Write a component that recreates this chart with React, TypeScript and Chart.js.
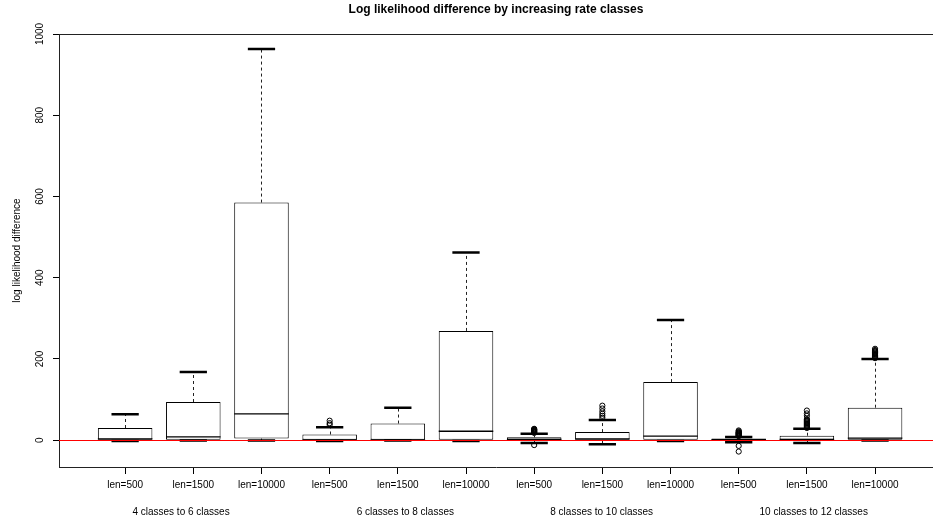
import React, { useEffect, useRef } from "react";
import { Chart, registerables } from "chart.js";

Chart.register(...registerables);

const FONT = "'Liberation Sans', Arial, Helvetica, sans-serif";

const TITLE = "Log likelihood difference by increasing rate classes";
const Y_TITLE = "log likelihood difference";

const CATEGORIES = [
  "len=500", "len=1500", "len=10000",
  "len=500", "len=1500", "len=10000",
  "len=500", "len=1500", "len=10000",
  "len=500", "len=1500", "len=10000",
];
const GROUPS = [
  "4 classes to 6 classes",
  "6 classes to 8 classes",
  "8 classes to 10 classes",
  "10 classes to 12 classes",
];
const GROUP_POS = [1.82, 5.11, 7.99, 11.1];

const WHISKER_LOW = [-2, -1, -1, -2, -1, -2, -7, -10, -2, -5, -7, -1];
const Q1 = [0, 0, 4, 0, 0, 0, 0, 0, 0, -1, 0, 0];
const MEDIAN = [3, 8, 65, 1, 1, 22, 2, 3, 10, 1, 2, 5];
const Q3 = [30, 94, 585, 14, 41, 269, 7, 20, 143, 4, 11, 80];
const WHISKER_HIGH = [64, 168, 963, 32, 80, 462, 16, 50, 296, 8, 28, 200];
const OUTLIERS: number[][] = [
  [],
  [],
  [],
  [38, 42, 48],
  [],
  [],
  [18, 19, 20, 21, 22, 23, 24, 25, 26, 27, 28, -12],
  [55, 60, 65, 71, 78, 85],
  [],
  [10, 11, 12, 13, 14, 15, 16, 17, 18, 19, 20, 22, 24, -14, -28],
  [30, 32, 34, 36, 38, 40, 42, 44, 46, 48, 50, 52, 60, 66, 73],
  [202, 204, 206, 208, 210, 212, 214, 216, 218, 220, 222, 225],
];

const Y_TICKS = [0, 200, 400, 600, 800, 1000];
const Y_MIN = -66;
const Y_MAX = 1000;
const X_MIN = 0.03;
const X_MAX = 12.85;
const REF_LINE = 0;

const boxPlugin = {
  id: "boxExtras",
  afterDatasetsDraw(chart: any) {
    const { ctx, chartArea } = chart;
    const x = chart.scales.x;
    const y = chart.scales.y;
    ctx.save();
    for (let i = 0; i < Q3.length; i++) {
      const pos = i + 1;
      const cx = Math.round(x.getPixelForValue(pos)) + 0.5;
      const capL = x.getPixelForValue(pos - 0.2);
      const capR = x.getPixelForValue(pos + 0.2);
      const boxL = x.getPixelForValue(pos - 0.4);
      const boxR = x.getPixelForValue(pos + 0.4);
      ctx.setLineDash([3, 3]);
      ctx.lineWidth = 1;
      ctx.strokeStyle = "#222";
      ctx.beginPath();
      ctx.moveTo(cx, y.getPixelForValue(Q3[i]));
      ctx.lineTo(cx, y.getPixelForValue(WHISKER_HIGH[i]));
      ctx.moveTo(cx, y.getPixelForValue(Q1[i]));
      ctx.lineTo(cx, y.getPixelForValue(WHISKER_LOW[i]));
      ctx.stroke();
      ctx.setLineDash([]);
      ctx.strokeStyle = "#000";
      ctx.lineWidth = 2.5;
      ctx.beginPath();
      ctx.moveTo(capL, y.getPixelForValue(WHISKER_HIGH[i]));
      ctx.lineTo(capR, y.getPixelForValue(WHISKER_HIGH[i]));
      ctx.moveTo(capL, y.getPixelForValue(WHISKER_LOW[i]));
      ctx.lineTo(capR, y.getPixelForValue(WHISKER_LOW[i]));
      ctx.stroke();
      ctx.lineWidth = 1.3;
      ctx.beginPath();
      const my = y.getPixelForValue(MEDIAN[i]);
      ctx.moveTo(boxL, my);
      ctx.lineTo(boxR, my);
      ctx.stroke();
    }
    const ry = Math.round(y.getPixelForValue(REF_LINE)) + 0.5;
    ctx.strokeStyle = "#ff0000";
    ctx.lineWidth = 1;
    ctx.beginPath();
    ctx.moveTo(chartArea.left, ry);
    ctx.lineTo(chartArea.right, ry);
    ctx.stroke();
    ctx.restore();
  },
  afterDraw(chart: any) {
    const { ctx, chartArea } = chart;
    const x = chart.scales.x;
    const y = chart.scales.y;
    ctx.save();
    ctx.strokeStyle = "#222";
    ctx.lineWidth = 1;
    ctx.beginPath();
    ctx.moveTo(chartArea.left, Math.round(chartArea.top) + 0.5);
    ctx.lineTo(chartArea.right, Math.round(chartArea.top) + 0.5);
    ctx.stroke();
    ctx.fillStyle = "#000";
    ctx.font = `10px ${FONT}`;
    ctx.textAlign = "center";
    ctx.textBaseline = "middle";
    for (const t of y.ticks) {
      const py = y.getPixelForValue(t.value);
      ctx.save();
      ctx.translate(40, py);
      ctx.rotate(-Math.PI / 2);
      ctx.fillText(String(t.value), 0, 0);
      ctx.restore();
    }
    for (let g = 0; g < GROUPS.length; g++) {
      ctx.fillText(GROUPS[g], x.getPixelForValue(GROUP_POS[g]), 512);
    }
    ctx.restore();
  },
};

export default function App() {
  const ref = useRef<HTMLCanvasElement | null>(null);
  useEffect(() => {
    if (!ref.current) return;
    const chart = new Chart(ref.current, {
      type: "bar",
      data: {
        datasets: [
          {
            type: "bar",
            data: Q1.map((q, i) => ({ x: i + 1, y: [q, Q3[i]] })) as any,
            backgroundColor: "#ffffff",
            borderColor: "#000000",
            borderWidth: 1,
            borderSkipped: false,
            barPercentage: 0.8,
            categoryPercentage: 1,
            grouped: false,
            order: 2,
          } as any,
          {
            type: "scatter",
            data: OUTLIERS.flatMap((arr, i) => arr.map((v) => ({ x: i + 1, y: v }))),
            pointRadius: 2.6,
            pointBorderWidth: 1,
            pointBackgroundColor: "rgba(255,255,255,0)",
            pointBorderColor: "#000",
            showLine: false,
            order: 1,
          } as any,
        ],
      },
      options: {
        responsive: false,
        animation: false,
        devicePixelRatio: 1,
        layout: { padding: 0, autoPadding: false },
        plugins: {
          legend: { display: false },
          tooltip: { enabled: false },
          title: {
            display: true,
            text: TITLE,
            fullSize: false,
            color: "#000",
            font: { family: FONT, size: 12, weight: "bold", lineHeight: 1.2 },
            padding: { top: 2, bottom: 17.6 },
          },
        },
        scales: {
          x: {
            type: "linear",
            min: X_MIN,
            max: X_MAX,
            offset: false,
            afterBuildTicks: (s: any) => {
              s.ticks = CATEGORIES.map((_, i) => ({ value: i + 1 }));
            },
            afterFit: (s: any) => {
              s.height = 55;
              s.paddingLeft = 0;
              s.paddingRight = 0;
            },
            ticks: {
              autoSkip: false,
              maxRotation: 0,
              minRotation: 0,
              padding: 5,
              color: "#000",
              font: { family: FONT, size: 10 },
              callback: (v: any) => CATEGORIES[Math.round(Number(v)) - 1] ?? "",
            },
            grid: {
              display: true,
              drawOnChartArea: false,
              drawTicks: true,
              tickLength: 7,
              color: "#000",
              offset: false,
            },
            border: { display: true, color: "#222", width: 1 },
          },
          y: {
            type: "linear",
            min: Y_MIN,
            max: Y_MAX,
            afterBuildTicks: (s: any) => {
              s.ticks = Y_TICKS.map((v) => ({ value: v }));
            },
            afterFit: (s: any) => {
              s.width = 59;
              s.paddingTop = 0;
              s.paddingBottom = 0;
            },
            ticks: { display: false },
            grid: {
              display: true,
              drawOnChartArea: false,
              drawTicks: true,
              tickLength: 6,
              color: "#000",
            },
            border: { display: true, color: "#222", width: 1 },
            title: {
              display: true,
              text: Y_TITLE,
              color: "#000",
              font: { family: FONT, size: 10 },
              padding: { top: 11, bottom: 0 },
            },
          },
        },
      } as any,
      plugins: [boxPlugin],
    });
    return () => chart.destroy();
  }, []);
  return (
    <div style={{ position: "fixed", left: 0, top: 0, width: 933, height: 522, background: "#fff" }}>
      <canvas ref={ref} width={933} height={522} style={{ display: "block" }} />
    </div>
  );
}
